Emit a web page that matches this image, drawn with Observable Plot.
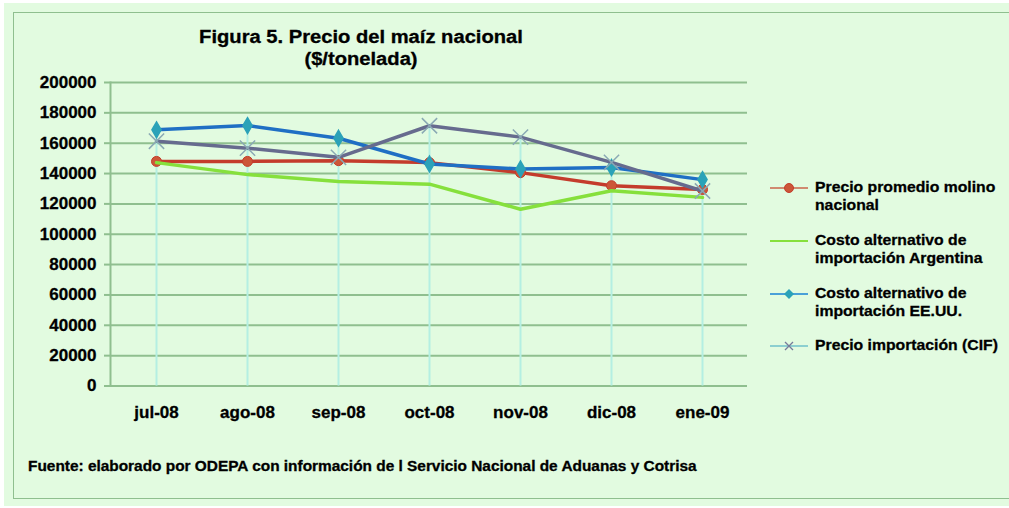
<!DOCTYPE html>
<html>
<head>
<meta charset="utf-8">
<script src="https://cdn.jsdelivr.net/npm/d3@7"></script>
<script src="https://cdn.jsdelivr.net/npm/@observablehq/plot@0.6"></script>
<style>
  html, body { margin: 0; padding: 0; background: #ffffff; }
  #wrap { position: relative; width: 1009px; height: 508px; overflow: hidden; font-family: "Liberation Sans", Arial, sans-serif; }
  #bg { position: absolute; left: 4px; top: 3px; width: 1010px; height: 503px; background: #e2fbe0; }
  #border { position: absolute; left: 13px; top: 12px; width: 1010px; height: 487px; border: 1.5px solid #8fbf8f; box-sizing: border-box; }
  #chart { position: absolute; left: 0; top: 0; }
  .title { position: absolute; left: 111px; width: 500px; text-align: center; font-weight: bold; font-size: 18px; color: #000; transform: scaleX(1.12); transform-origin: 250px 0; -webkit-text-stroke: 0.3px #000; }
  #legend { position: absolute; left: 768px; top: 178px; }
  .lg { position: absolute; left: 0; width: 240px; }
  .lg svg { position: absolute; left: 0; }
  .lg .t { position: absolute; left: 47px; font-weight: bold; font-size: 15px; line-height: 18px; color: #000; white-space: nowrap; transform: scaleX(1.05); transform-origin: 0 0; -webkit-text-stroke: 0.3px #000; }
  #source { position: absolute; left: 28px; top: 458px; font-weight: bold; font-size: 14px; color: #000; white-space: nowrap; transform: scaleX(1.1); transform-origin: 0 0; -webkit-text-stroke: 0.3px #000; }
  #chart svg text { stroke: #000; stroke-width: 0.3px; }
</style>
</head>
<body>
<div id="wrap">
  <div id="bg"></div>
  <div id="border"></div>
  <div id="chart"></div>
  <div class="title" style="top:27px">Figura 5. Precio del maíz nacional</div>
  <div class="title" style="top:49px">($/tonelada)</div>
  <div id="legend"></div>
  <div id="source">Fuente: elaborado por ODEPA con información de l Servicio Nacional de Aduanas y Cotrisa</div>
</div>
<script>
// ---- data ----
const months = ["jul-08", "ago-08", "sep-08", "oct-08", "nov-08", "dic-08", "ene-09"];
const molino = [148000, 148000, 148500, 147200, 140600, 132000, 129500];
const argentina = [147200, 139300, 134700, 133000, 116500, 128700, 124300];
const eeuu = [168800, 171600, 163300, 146300, 143000, 144000, 136000];
const cif = [161300, 156700, 150700, 171500, 164000, 147400, 128500];
const yTicks = [0, 20000, 40000, 60000, 80000, 100000, 120000, 140000, 160000, 180000, 200000];
const seriesNames = [
  "Precio promedio molino nacional",
  "Costo alternativo de importación Argentina",
  "Costo alternativo de importación EE.UU.",
  "Precio importación (CIF)"
];
const legendLines = [
  ["Precio promedio molino", "nacional"],
  ["Costo alternativo de", "importación Argentina"],
  ["Costo alternativo de", "importación EE.UU."],
  ["Precio importación (CIF)"]
];

// ---- style ----
const gridColor = "#8fbf8f";
const colors = {
  molino: "#c43c2c", molinoMark: "#cc5638",
  arg: "#86e03c",
  eeuu: "#1f6fc4", eeuuMark: "#2ba2b8",
  cif: "#666b8e", cifMark: "#8aa9b4",
  drop: "#b4efe2"
};

const toRows = (vals) => months.map((m, i) => ({month: m, value: vals[i]}));
const rMolino = toRows(molino), rArg = toRows(argentina), rEeuu = toRows(eeuu), rCif = toRows(cif);
const drops = months.map((m, i) => ({month: m, top: Math.max(molino[i], argentina[i], eeuu[i], cif[i])}));

const font = `"Liberation Sans", Arial, sans-serif`;

const chart = Plot.plot({
  width: 1009,
  height: 508,
  marginLeft: 110,
  marginRight: 262,
  marginTop: 82,
  marginBottom: 122.5,
  style: {background: "transparent", fontFamily: font, fontSize: "17px", fontWeight: "bold", color: "#000"},
  x: {type: "point", domain: months, padding: 0.5, label: null},
  y: {domain: [0, 200000], label: null},
  marks: [
    Plot.gridY(yTicks, {stroke: gridColor, strokeOpacity: 1, strokeWidth: 2}),
    Plot.ruleY([0], {stroke: gridColor, strokeWidth: 2}),
    Plot.axisY(yTicks, {tickSize: 6, tickPadding: 8, stroke: gridColor, strokeWidth: 2, tickFormat: d => String(d), fontWeight: "bold", fontSize: 17, label: null}),
    Plot.frame({anchor: "left", stroke: gridColor, strokeWidth: 2}),
    Plot.axisX({tickSize: 0, tickPadding: 20, fontWeight: "bold", fontSize: 17, label: null}),
    Plot.ruleX(drops, {x: "month", y1: 0, y2: "top", stroke: colors.drop, strokeWidth: 2}),
    Plot.line(rMolino, {x: "month", y: "value", stroke: colors.molino, strokeWidth: 3.5}),
    Plot.dot(rMolino, {x: "month", y: "value", r: 5, fill: colors.molinoMark, stroke: colors.molino, strokeWidth: 1}),
    Plot.line(rArg, {x: "month", y: "value", stroke: colors.arg, strokeWidth: 3.5}),
    Plot.line(rEeuu, {x: "month", y: "value", stroke: colors.eeuu, strokeWidth: 3.5}),
    Plot.dot(rEeuu, {x: "month", y: "value", r: 4.8, symbol: "diamond", fill: colors.eeuuMark, stroke: colors.eeuuMark}),
    Plot.line(rCif, {x: "month", y: "value", stroke: colors.cif, strokeWidth: 3.5}),
    Plot.dot(rCif, {x: "month", y: "value", r: 7, symbol: "times", stroke: colors.cifMark, strokeWidth: 1.5})
  ]
});
document.getElementById("chart").appendChild(chart);

// ---- legend ----
const legend = document.getElementById("legend");
const rowTops = [0, 53, 106, 158];
const swatches = [
  `<line x1="2" y1="10" x2="40" y2="10" stroke="#d08a70" stroke-width="2"/><circle cx="21" cy="10" r="4.5" fill="${colors.molinoMark}" stroke="${colors.molino}"/>`,
  `<line x1="2" y1="10" x2="40" y2="10" stroke="${colors.arg}" stroke-width="2"/>`,
  `<line x1="2" y1="10" x2="40" y2="10" stroke="#4aa0d8" stroke-width="2"/><path d="M21 5 L26 10 L21 15 L16 10 Z" fill="${colors.eeuuMark}"/>`,
  `<line x1="2" y1="10" x2="40" y2="10" stroke="#8ccfd0" stroke-width="2"/><path d="M17 6 L25 14 M25 6 L17 14" stroke="#777a9a" stroke-width="1.3"/>`
];
legendLines.forEach((lines, i) => {
  const row = document.createElement("div");
  row.className = "lg";
  row.style.top = rowTops[i] + "px";
  row.innerHTML = `<svg width="44" height="20" style="top:0px">${swatches[i]}</svg><div class="t" style="top:0px" title="${seriesNames[i]}">${lines.join("<br>")}</div>`;
  legend.appendChild(row);
});
</script>
</body>
</html>
